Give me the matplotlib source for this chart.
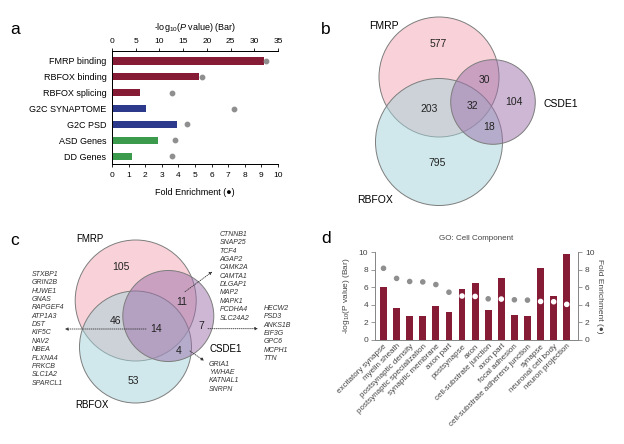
import numpy as np
import matplotlib
matplotlib.use('Agg')
import matplotlib.pyplot as plt
from matplotlib.patches import Circle

plt.rcParams['font.family'] = ['Liberation Sans', 'DejaVu Sans']
plt.rcParams['mathtext.fontset'] = 'custom'
plt.rcParams['mathtext.rm'] = 'Liberation Sans'
plt.rcParams['mathtext.it'] = 'Liberation Sans:italic'

# panel a data
a_cats = ['FMRP binding', 'RBFOX binding', 'RBFOX splicing', 'G2C SYNAPTOME',
          'G2C PSD', 'ASD Genes', 'DD Genes']
a_logp = [32.0, 18.3, 5.9, 7.1, 13.8, 9.7, 4.2]
a_fold = [9.27, 5.4, 3.6, 7.32, 4.54, 3.79, 3.61]
a_group = ['rb', 'rb', 'rb', 'g2c', 'g2c', 'dis', 'dis']

# panel b venn counts
b_sets = ['FMRP', 'RBFOX', 'CSDE1']
b_counts = {'100': 577, '010': 795, '001': 104, '110': 203, '101': 30, '011': 18, '111': 32}

# panel c venn counts and gene lists
c_counts = {'100': 105, '010': 53, '001': 7, '110': 46, '101': 11, '011': 4, '111': 14}
genes_111 = ['STXBP1', 'GRIN2B', 'HUWE1', 'GNAS', 'RAPGEF4', 'ATP1A3', 'DST', 'KIF5C',
             'NAV2', 'NBEA', 'PLXNA4', 'PRKCB', 'SLC1A2', 'SPARCL1']
genes_101 = ['CTNNB1', 'SNAP25', 'TCF4', 'AGAP2', 'CAMK2A', 'CAMTA1', 'DLGAP1', 'MAP2',
             'MAPK1', 'PCDHA4', 'SLC24A2']
genes_001 = ['HECW2', 'PSD3', 'ANKS1B', 'EIF3G', 'GPC6', 'MCPH1', 'TTN']
genes_011 = ['GRIA1', 'YWHAE', 'KATNAL1', 'SNRPN']

# panel d data
d_terms = ['excitatory synapse', 'myelin sheath', 'postsynaptic density',
           'postsynaptic specialization', 'synaptic membrane', 'axon part', 'postsynapse',
           'axon', 'cell-substrate junction', 'axon part', 'focal adhesion',
           'cell-substrate adherens junction', 'synapse', 'neuronal cell body',
           'neuron projection']
d_logp = [6.0, 3.65, 2.75, 2.75, 3.9, 3.2, 5.75, 6.5, 3.4, 7.1, 2.8, 2.75, 8.2, 5.05, 9.8]
d_fold = [8.15, 7.0, 6.65, 6.6, 6.3, 5.43, 5.0, 4.95, 4.68, 4.65, 4.57, 4.53, 4.38, 4.35, 4.05]

red = '#861b36'
colors = {'rb': red, 'g2c': '#2d3a8c', 'dis': '#3b9a4b'}
dotgrey = '#8f8f8f'

fig = plt.figure(figsize=(6.24, 4.44), dpi=100)

# overlay in pixel coordinates for venns and letters
ov = fig.add_axes([0, 0, 1, 1])
ov.set_xlim(0, 624)
ov.set_ylim(444, 0)
ov.axis('off')

for letter, (x, y) in zip('abcd', [(15, 29), (326, 29), (15, 240), (326, 238)]):
    ov.text(x, y, letter, fontsize=12.5, ha='center', va='center')

# ---- panel a
ax = fig.add_axes([112 / 624, 1 - 164 / 444, 166 / 624, 113 / 444])
ax2 = ax.twiny()
ypos = np.arange(len(a_cats))
ax.barh(ypos, a_logp, height=0.45, color=[colors[g] for g in a_group])
ax.set_xlim(0, 35)
ax.set_ylim(6.5, -0.63)
ax.set_yticks(ypos)
ax.set_yticklabels(a_cats, fontsize=6.5)
ax.tick_params(axis='y', length=0, pad=4)
ax.xaxis.tick_top()
ax.xaxis.set_label_position('top')
ax.set_xticks(range(0, 36, 5))
ax.tick_params(axis='x', labelsize=6, length=2.5, width=0.6, pad=1.5)
ax.set_xlabel(r'-log$_{10}$($P$ value) (Bar)', fontsize=6.5, labelpad=6)
ax.spines['right'].set_visible(False)
for s in ax.spines.values():
    s.set_linewidth(0.7)

ax2.scatter(a_fold, ypos, s=10, color=dotgrey, zorder=3, clip_on=False)
ax2.set_xlim(0, 10)
ax2.set_xticks(range(0, 11))
ax2.xaxis.tick_bottom()
ax2.xaxis.set_label_position('bottom')
ax2.tick_params(axis='x', labelsize=6, length=2.5, width=0.6, pad=3)
ax2.set_xlabel('Fold Enrichment (●)', fontsize=6.5, labelpad=7)
ax2.spines['right'].set_visible(False)
for s in ax2.spines.values():
    s.set_linewidth(0.7)

# ---- venn helper
def venn(circles, fills, counts, count_pos, fs):
    for (cx, cy, r), fc in zip(circles, fills):
        ov.add_patch(Circle((cx, cy), r, facecolor=fc, alpha=0.5, edgecolor='none'))
        ov.add_patch(Circle((cx, cy), r, facecolor='none', edgecolor='#7d7d7d', lw=0.7))
    for key, (x, y) in count_pos.items():
        ov.text(x, y, str(counts[key]), fontsize=fs, ha='center', va='center', color='#222222')

fills = ['#f4a7b5', '#a3d2d8', '#9c70aa']

# ---- panel b
venn([(439, 77, 60), (439, 142, 63.5), (493, 102, 42.3)], fills, b_counts,
     {'100': (438.5, 44), '101': (484, 80), '001': (514, 102), '110': (429, 109),
      '111': (472, 106), '011': (489, 127), '010': (437, 163)}, 7.5)
ov.text(384, 26, b_sets[0], fontsize=7.5, ha='center', va='center')
ov.text(375.5, 200, b_sets[1], fontsize=7.5, ha='center', va='center')
ov.text(560.5, 104, b_sets[2], fontsize=7.5, ha='center', va='center')

# ---- panel c
venn([(135.7, 300.5, 60.5), (135.5, 347, 56), (168.3, 316, 45.5)], fills, c_counts,
     {'100': (121, 267), '101': (182, 302), '001': (201, 326), '110': (116, 321),
      '111': (156, 329), '011': (179, 351), '010': (133, 381)}, 7.5)
ov.text(89.5, 238.5, b_sets[0], fontsize=7, ha='center', va='center')
ov.text(92, 405, b_sets[1], fontsize=7, ha='center', va='center')
ov.text(225.5, 349, b_sets[2], fontsize=7, ha='center', va='center')

gene_kw = dict(fontsize=5, style='italic', ha='left', va='top', linespacing=1.27, color='#333333')
ov.text(31.7, 271, '\n'.join(genes_111), **gene_kw)
ov.text(219.3, 231, '\n'.join(genes_101), **gene_kw)
ov.text(263.3, 305, '\n'.join(genes_001), **gene_kw)
ov.text(209, 360.5, '\n'.join(genes_011), **gene_kw)

arr = dict(arrowstyle='-|>', linestyle=(0, (1, 1.5)), lw=0.6, color='#333333',
           mutation_scale=4, shrinkA=0, shrinkB=0)
for start, end in [((146, 329), (65, 329)), ((208, 328.7), (258, 328.7)),
                   ((185, 291.7), (212.3, 271.7)), ((190, 351), (204, 360.7))]:
    ov.annotate('', xy=end, xytext=start, arrowprops=arr)

# ---- panel d
axd = fig.add_axes([375 / 624, 1 - 340 / 444, 203 / 624, 88 / 444])
axd2 = axd.twinx()
xpos = np.arange(len(d_terms))
axd.bar(xpos, d_logp, width=0.52, color=red)
axd.set_xlim(-0.65, 14.86)
axd.set_ylim(0, 10)
axd.set_yticks(range(0, 11, 2))
axd.set_xticks(xpos)
axd.set_xticklabels(d_terms, rotation=45, ha='right', rotation_mode='anchor',
                    fontsize=5.8, color='#444444')
axd.tick_params(axis='x', length=0, pad=2)
axd.tick_params(axis='y', labelsize=6, length=3, width=0.6, color='#888888',
                labelcolor='#444444', pad=2)
axd.set_ylabel(r'-log$_{10}$(P value) (Bar)', fontsize=6, color='#444444', labelpad=5)
axd.set_title('GO: Cell Component', fontsize=5.8, color='#444444', pad=9)
axd.spines['top'].set_visible(False)
for s in ['left', 'bottom', 'right']:
    axd.spines[s].set_color('#888888')
    axd.spines[s].set_linewidth(0.7)

dot_cols = ['white' if f < p else dotgrey for f, p in zip(d_fold, d_logp)]
axd2.scatter(xpos, d_fold, s=9, color=dot_cols, zorder=3)
axd2.set_ylim(0, 10)
axd2.set_yticks(range(0, 11, 2))
axd2.tick_params(axis='y', labelsize=6, length=3, width=0.6, color='#888888',
                 labelcolor='#444444', pad=2)
axd2.set_ylabel('Fold Enrichment (●)', fontsize=6, color='#444444', rotation=270,
                labelpad=6)
axd2.spines['top'].set_visible(False)
for s in ['left', 'bottom', 'right']:
    axd2.spines[s].set_color('#888888')
    axd2.spines[s].set_linewidth(0.7)

fig.savefig('out.png', dpi=100)
